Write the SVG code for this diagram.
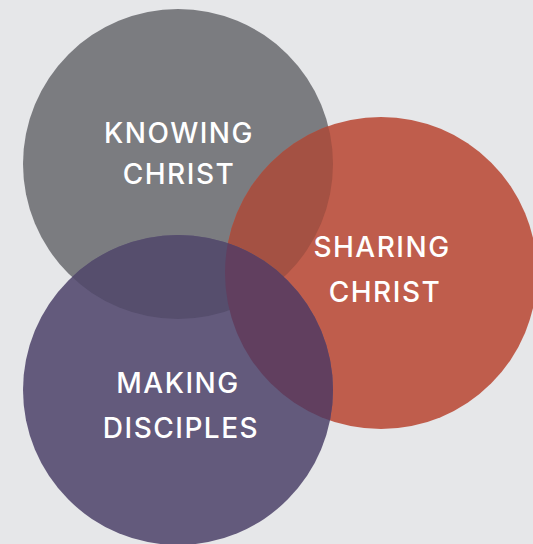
<svg xmlns="http://www.w3.org/2000/svg" width="533" height="544" viewBox="0 0 533 544">
<style>
.lbl{font-family:Inter,"Liberation Sans",sans-serif;font-size:28px;font-weight:500;fill:#ffffff;text-anchor:middle;letter-spacing:1.5px}
</style>
<defs>
<clipPath id="cg"><circle cx="178" cy="164" r="155"/></clipPath>
<clipPath id="cr"><circle cx="381" cy="273" r="156"/></clipPath>
</defs>
<rect width="533" height="544" fill="#e6e7e9"/>
<g id="knowing">
<circle cx="178" cy="164" r="155" fill="#7b7c80"/>
</g>
<g id="sharing">
<circle cx="381" cy="273" r="156" fill="#bf5d4c"/>
<circle cx="381" cy="273" r="156" fill="#a45143" clip-path="url(#cg)"/>
</g>
<g id="making">
<circle cx="178" cy="390" r="155" fill="#635a7c"/>
<circle cx="178" cy="390" r="155" fill="#564e6d" clip-path="url(#cg)"/>
<g clip-path="url(#cr)"><circle cx="178" cy="390" r="155" fill="#613f5f"/></g>
</g>
<g id="labels">
<text class="lbl" x="179" y="143">KNOWING</text>
<text class="lbl" x="179" y="184">CHRIST</text>
<text class="lbl" x="382" y="257">SHARING</text>
<text class="lbl" x="385" y="302">CHRIST</text>
<text class="lbl" x="178" y="393">MAKING</text>
<text class="lbl" x="181" y="438">DISCIPLES</text>
</g>
</svg>
